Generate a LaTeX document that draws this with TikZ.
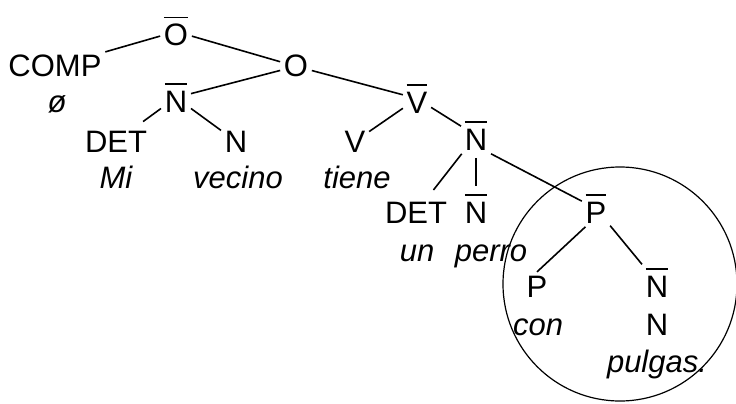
\documentclass[tikz,border=0pt]{standalone}
\usepackage{fontspec}
\setmainfont{Liberation Sans}
% category with a bar over it
\newcommand{\barcat}[1]{\vbox{\hrule height 1.6pt\kern 6pt\hbox{#1}}}

\begin{document}
\begin{tikzpicture}[x=1pt, y=-1pt, line width=1.6pt,
  every node/.style={font=\fontsize{31}{36}\selectfont, anchor=base, inner sep=3pt},
  word/.style={font=\fontsize{31}{36}\selectfont\itshape}]
  \useasboundingbox (0,0) rectangle (736,404);

  % top of the tree
  \node (Obar) at (176,46) {\barcat{O}};
  \node (comp) at (55,77) {COMP};
  \node[word] (null) at (57,112) {ø};
  \node (O) at (296,77) {O};

  % subject
  \node (Nsub) at (176,112) {\barcat{N}};
  \node (Dsub) at (116,152) {DET};
  \node (Nhead) at (236,152) {N};
  \node[word] (mi) at (116,188) {Mi};
  \node[word] (vecino) at (238,188) {vecino};

  % predicate
  \node (Vbar) at (417,113) {\barcat{V}};
  \node (V) at (355,152) {V};
  \node[word] (tiene) at (357,188) {tiene};
  \node (Nobj) at (476,150) {\barcat{N}};
  \node (Dobj) at (416,223) {DET};
  \node (Nobjb) at (476,223) {\barcat{N}};
  \node[word] (un) at (417,261) {un};
  \node[word] (perro) at (491,261) {perro};

  % prepositional phrase
  \node (Pbar) at (596,223) {\barcat{P}};
  \node (P) at (537,297) {P};
  \node (Npp) at (657,297) {\barcat{N}};
  \node[word] (con) at (538,335) {con};
  \node (Nppb) at (657,335) {N};
  \node[word] (pulgas) at (657,372) {pulgas.};

  % branches
  \draw (Obar) -- (comp);
  \draw (Obar) -- (O);
  \draw (O) -- (Nsub);
  \draw (O) -- (Vbar);
  \draw[shorten >=9pt] (Nsub) -- (Dsub);
  \draw (Nsub) -- (Nhead);
  \draw (Vbar) -- (V);
  \draw (Vbar) -- (Nobj);
  \draw[shorten >=10pt] (Nobj) -- (Dobj);
  \draw[shorten <=4pt, shorten >=4pt] (Nobj) -- (Nobjb);
  \draw (Nobj.south east) -- (Pbar);
  \draw (Pbar.240) -- (P.north);
  \draw (Pbar) -- (Npp);

  % circle round the PP
  \draw[line width=1.2pt] (620,284) circle[radius=117];
\end{tikzpicture}
\end{document}
